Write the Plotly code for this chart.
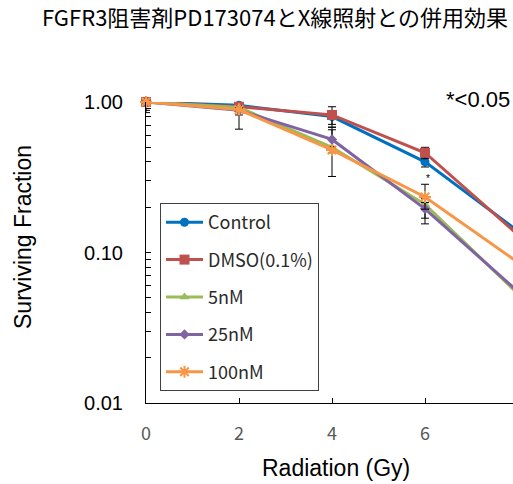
import plotly.graph_objects as go

# ---- data ----
dose = [0, 2, 4, 6, 8]
series_names = ["Control", "DMSO(0.1%)", "5nM", "25nM", "100nM"]
control = [1.0, 0.95, 0.80, 0.40, 0.139]
dmso = [1.0, 0.93, 0.82, 0.46, 0.131]
nm5 = [1.0, 0.92, 0.50, 0.209, 0.053]
nm25 = [1.0, 0.88, 0.564, 0.195, 0.055]
nm100 = [1.0, 0.89, 0.48, 0.234, 0.086]

# error bars (plus / minus)
control_ep = [0.0, 0.02, 0.03, 0.03, 0.0]
control_em = [0.12, 0.02, 0.12, 0.03, 0.0]
dmso_ep = [0.0, 0.02, 0.11, 0.04, 0.0]
dmso_em = [0.15, 0.02, 0.11, 0.04, 0.0]
nm5_ep = [0.0, 0.02, 0.18, 0.02, 0.0]
nm5_em = [0.0, 0.02, 0.18, 0.04, 0.0]
nm25_ep = [0.0, 0.03, 0.09, 0.02, 0.0]
nm25_em = [0.0, 0.22, 0.06, 0.04, 0.0]
nm100_ep = [0.0, 0.03, 0.02, 0.05, 0.0]
nm100_em = [0.0, 0.07, 0.02, 0.04, 0.0]

x_ticks = [0, 2, 4, 6, 8]
y_ticks = [1.0, 0.1, 0.01]
y_ticktext = ["1.00", "0.10", "0.01"]

colors = ["#0070C0", "#C0504D", "#9BBB59", "#8064A2", "#F79646"]
symbols = ["circle", "square", "triangle-up", "diamond", "asterisk-open"]
sizes = [9, 10, 9, 8, 10]
values = [control, dmso, nm5, nm25, nm100]
eplus = [control_ep, dmso_ep, nm5_ep, nm25_ep, nm100_ep]
eminus = [control_em, dmso_em, nm5_em, nm25_em, nm100_em]

fig = go.Figure()
for i, (name, vals) in enumerate(zip(series_names, values)):
    fig.add_trace(go.Scatter(
        x=dose, y=vals, name=name, mode="lines+markers",
        line=dict(color=colors[i], width=3),
        marker=dict(color=colors[i], symbol=symbols[i], size=sizes[i],
                    line=dict(color=colors[i], width=2 if i == 4 else 0)),
        error_y=dict(type="data", array=eplus[i], arrayminus=eminus[i],
                     symmetric=False, color="black", thickness=1, width=4),
        cliponaxis=False,
        legendgroup=name,
    ))

BASE = "Noto Sans CJK JP"
ARIAL = "Liberation Sans"

fig.update_layout(
    width=513, height=484,
    margin=dict(l=146, r=0, t=102, b=81),
    paper_bgcolor="white", plot_bgcolor="white",
    title=dict(text="FGFR3阻害剤PD173074とX線照射との併用効果",
               font=dict(family=BASE, size=22, color="black"),
               x=275 / 513, xanchor="center", xref="container",
               y=1 - 18 / 484, yanchor="middle", yref="container"),
    showlegend=True,
    legend=dict(x=(160 - 146) / 367, y=(403 - 203) / 301, xanchor="left", yanchor="top",
                bordercolor="#404040", borderwidth=1, bgcolor="white",
                font=dict(family=BASE, size=18, color="#2a2a2a"),
                tracegroupgap=11, itemwidth=37,
                entrywidth=125, entrywidthmode="pixels"),
    xaxis=dict(range=[0, 367 / 46.5], tickvals=x_ticks, ticks="inside", ticklen=5,
               tickcolor="black", showline=True, linecolor="black", linewidth=1,
               showgrid=False, zeroline=False,
               tickfont=dict(family=BASE, size=18, color="#595959"),
               ticklabelstandoff=14),
    yaxis=dict(type="log", range=[-2, 0], tickvals=y_ticks, ticktext=y_ticktext,
               ticks="inside", ticklen=5, tickcolor="black",
               showline=True, linecolor="black", linewidth=1,
               showgrid=False, zeroline=False,
               tickfont=dict(family=ARIAL, size=20, color="black"),
               ticklabelstandoff=18,
               minor=dict(ticks="inside", ticklen=5, tickcolor="black",
                          tickvals=[0.02, 0.03, 0.04, 0.05, 0.06, 0.07, 0.08, 0.09,
                                    0.2, 0.3, 0.4, 0.5, 0.6, 0.7, 0.8, 0.9],
                          showgrid=False)),
    annotations=[
        dict(text="Radiation (Gy)", xref="paper", yref="paper",
             x=(336 - 146) / 367, y=(403 - 468) / 301, xanchor="center", yanchor="middle",
             showarrow=False, font=dict(family=ARIAL, size=23, color="black")),
        dict(text="Surviving Fraction", xref="paper", yref="paper", textangle=-90,
             x=(23 - 146) / 367, y=(403 - 237) / 301, xanchor="center", yanchor="middle",
             showarrow=False, font=dict(family=ARIAL, size=23, color="black")),
        dict(text="*<0.05", xref="paper", yref="paper",
             x=(478 - 146) / 367, y=(403 - 100) / 301, xanchor="center", yanchor="middle",
             showarrow=False, font=dict(family=ARIAL, size=22, color="black")),
        dict(text="*", xref="paper", yref="paper",
             x=(428 - 146) / 367, y=(403 - 178) / 301, xanchor="center", yanchor="middle",
             showarrow=False, font=dict(family=ARIAL, size=10, color="black")),
    ],
)

fig.write_html("out.html")
